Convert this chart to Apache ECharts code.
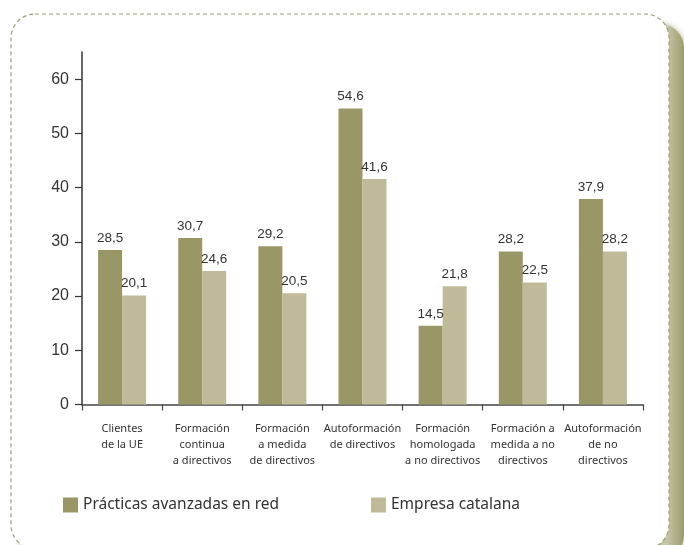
<!DOCTYPE html>
<html>
<head>
<meta charset="utf-8">
<script src="https://cdn.jsdelivr.net/npm/echarts@6/dist/echarts.min.js"></script>
<style>
  html, body { margin: 0; padding: 0; background: #ffffff; }
  #chart { width: 684px; height: 545px; }
</style>
</head>
<body>
<div id="chart"></div>
<script>
// Categories (multi-line labels) and the two series
const categories = [
  'Clientes\nde la UE',
  'Formación\ncontinua\na directivos',
  'Formación\na medida\nde directivos',
  'Autoformación\nde directivos',
  'Formación\nhomologada\na no directivos',
  'Formación a\nmedida a no\ndirectivos',
  'Autoformación\nde no\ndirectivos'
];
const seriesNames = ['Prácticas avanzadas en red', 'Empresa catalana'];
const practicasRed = [28.5, 30.7, 29.2, 54.6, 14.5, 28.2, 37.9];
const empresaCatalana = [20.1, 24.6, 20.5, 41.6, 21.8, 22.5, 28.2];
const yTicks = [0, 10, 20, 30, 40, 50, 60];

const DARK = '#9a9766';
const LIGHT = '#bfbb99';
const humanist = '"Noto Sans", "Open Sans", sans-serif';
const plain = '"Liberation Sans", Arial, sans-serif';

const fmt = v => v.toFixed(1).replace('.', ',');

const chart = echarts.init(document.getElementById('chart'), null, { renderer: 'canvas' });

const valueLabel = {
  show: true,
  position: 'top',
  distance: 5,
  fontFamily: plain,
  fontSize: 13.5,
  color: '#333',
  formatter: p => fmt(p.value)
};

chart.setOption({
  animation: false,
  backgroundColor: '#ffffff',
  graphic: [
    {
      // olive drop shadow behind the card
      type: 'rect',
      z: -21,
      shape: { x: 20, y: 24, width: 664, height: 535, r: 24 },
      style: {
        fill: new echarts.graphic.LinearGradient(0, 0, 1, 0, [
          { offset: 0, color: '#cfcdb2' },
          { offset: 0.975, color: '#c6c4a4' },
          { offset: 1, color: '#9c9a6e' }
        ]),
        shadowColor: 'rgba(160,157,110,0.7)',
        shadowBlur: 6
      }
    },
    {
      // white card
      type: 'rect',
      z: -20,
      shape: { x: 11, y: 14, width: 658, height: 535, r: 24 },
      style: { fill: '#ffffff' }
    },
    {
      // dashed frame
      type: 'rect',
      z: -19,
      shape: { x: 11, y: 14, width: 658, height: 535, r: 24 },
      style: {
        fill: null,
        stroke: '#9c9d74',
        lineWidth: 1.2,
        lineDash: [4, 3]
      }
    }
  ],
  grid: { left: 82, right: 41, top: 52, bottom: 140.5, containLabel: false },
  legend: [
    {
      data: [seriesNames[0]],
      left: 63, top: 497, padding: 0,
      icon: 'rect', itemWidth: 15, itemHeight: 15, itemGap: 6,
      textStyle: { fontFamily: humanist, fontSize: 15.5, color: '#333' }
    },
    {
      data: [seriesNames[1]],
      left: 371, top: 497, padding: 0,
      icon: 'rect', itemWidth: 15, itemHeight: 15, itemGap: 6,
      textStyle: { fontFamily: humanist, fontSize: 15.5, color: '#333' }
    }
  ],
  xAxis: {
    type: 'category',
    data: categories,
    boundaryGap: true,
    axisLine: { lineStyle: { color: '#444', width: 1.5 } },
    axisTick: { show: true, length: 6, lineStyle: { color: '#444', width: 1.2 } },
    axisLabel: {
      interval: 0,
      margin: 16,
      fontFamily: humanist,
      fontSize: 11,
      lineHeight: 16,
      color: '#333'
    }
  },
  yAxis: {
    type: 'value',
    min: 0,
    max: 65,
    interval: 10,
    splitLine: { show: false },
    axisLine: { show: true, lineStyle: { color: '#333', width: 1.5 } },
    axisTick: { show: true, length: 7, customValues: yTicks, lineStyle: { color: '#333', width: 1.2 } },
    axisLabel: {
      customValues: yTicks,
      margin: 13,
      fontFamily: plain,
      fontSize: 16,
      color: '#333'
    }
  },
  series: [
    {
      name: seriesNames[0],
      type: 'bar',
      data: practicasRed,
      barWidth: 24,
      barGap: '0%',
      itemStyle: { color: DARK },
      label: valueLabel
    },
    {
      name: seriesNames[1],
      type: 'bar',
      data: empresaCatalana,
      barWidth: 24,
      barGap: '0%',
      itemStyle: { color: LIGHT },
      label: valueLabel
    }
  ]
});
</script>
</body>
</html>
